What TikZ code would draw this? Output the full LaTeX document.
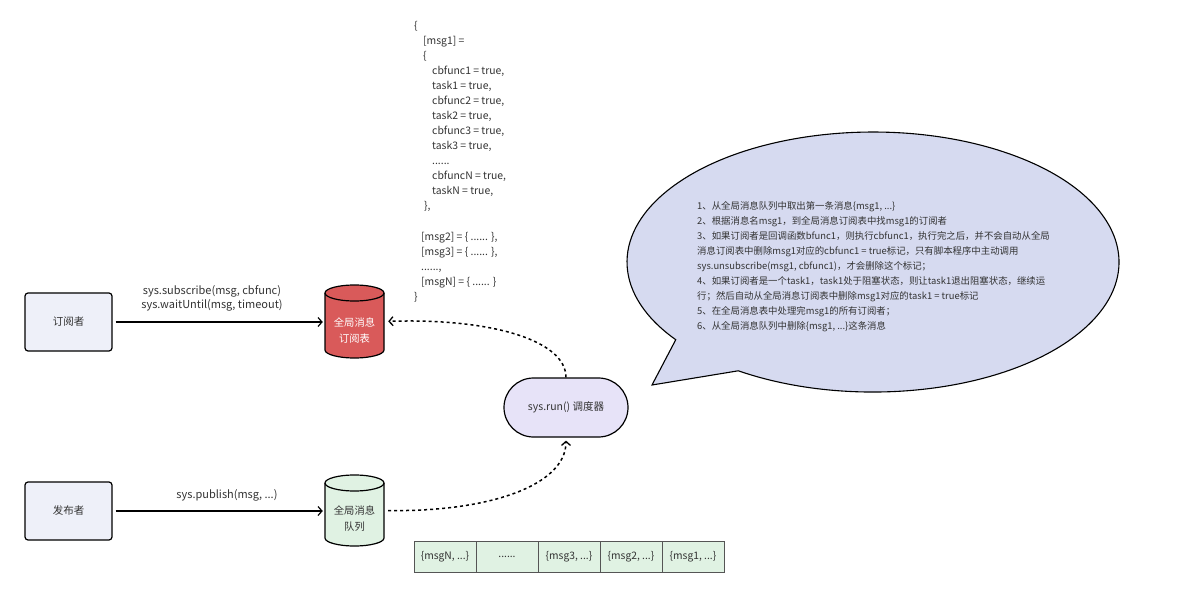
\documentclass[tikz,border=0pt]{standalone}
\usepackage{fontspec}
\setmainfont{Noto Sans CJK SC}
\usetikzlibrary{arrows.meta,calc}
\definecolor{txt}{HTML}{333333}
\definecolor{actorfill}{HTML}{EEF0F9}
\definecolor{schedfill}{HTML}{E7E3F8}
\definecolor{bubblefill}{HTML}{D6DAF0}
\definecolor{redfill}{HTML}{D95A5A}
\definecolor{greenfill}{HTML}{E0F2E3}
\definecolor{cellborder}{HTML}{555555}
\begin{document}
\begin{tikzpicture}[x=1pt,y=1pt,
  every node/.style={font=\fontsize{10.5}{15}\selectfont, text=txt},
  actor/.style={draw=black, line width=1.2pt, fill=actorfill, rounded corners=3pt,
    minimum width=87pt, minimum height=58pt, inner sep=0pt},
  cylspot/.style={minimum width=59pt, minimum height=73pt, inner sep=0pt},
  cylline/.style={draw=black, line width=1.2pt},
  cyltext/.style={align=center, inner sep=0pt, font=\fontsize{10.3}{16}\selectfont},
  sched/.style={draw=black, line width=1.2pt, fill=schedfill, rounded corners=29.5pt,
    minimum width=124pt, minimum height=59pt, inner sep=0pt},
  cell/.style={draw=cellborder, line width=1pt, fill=greenfill, minimum width=62pt,
    minimum height=31pt, inner sep=0pt, font=\fontsize{10.3}{15}\selectfont},
  solidarrow/.style={draw=black, line width=1.2pt, -{Straight Barb[length=4pt,width=9pt,line width=1.2pt]}},
  dasharrow/.style={draw=black, line width=1.5pt, dash pattern=on 3pt off 3pt,
    -{Straight Barb[length=4pt,width=9pt,line width=1.3pt]}},
  edgelabel/.style={align=center, inner sep=0pt, font=\fontsize{11}{14}\selectfont},
  codetext/.style={align=left, inner sep=0pt, anchor=base west, font=\fontsize{10.4}{15}\selectfont},
  bubbletext/.style={align=left, inner sep=0pt, anchor=base west, font=\fontsize{9.4}{15}\selectfont},
]
\useasboundingbox[fill=white] (0,0) rectangle (1200,-596);

% actors
\node[actor] (sub) at (68.5,-322) {订阅者};
\node[actor] (pub) at (68.5,-511) {发布者};

% red cylinder: global subscription table
\node[cylspot] (subtab) at (354.5,-321.5) {};
\filldraw[cylline, fill=redfill] (325,-293) -- (325,-350)
  arc[start angle=180, end angle=360, x radius=29.5, y radius=8] -- (384,-293)
  arc[start angle=0, end angle=180, x radius=29.5, y radius=8] -- cycle;
\draw[cylline] (325,-293) arc[start angle=180, end angle=360, x radius=29.5, y radius=8];
\node[cyltext, text=white] (subtabtext) at (354.5,-331) {全局消息\\订阅表};

% green cylinder: global message queue
\node[cylspot, minimum height=71pt] (msgq) at (354.5,-510.5) {};
\filldraw[cylline, fill=greenfill] (325,-483) -- (325,-538)
  arc[start angle=180, end angle=360, x radius=29.5, y radius=8] -- (384,-483)
  arc[start angle=0, end angle=180, x radius=29.5, y radius=8] -- cycle;
\draw[cylline] (325,-483) arc[start angle=180, end angle=360, x radius=29.5, y radius=8];
\node[cyltext] (msgqtext) at (354.5,-519) {全局消息\\队列};

% scheduler
\node[sched] (run) at (566,-407.5) {sys.run() 调度器};

% solid arrows with labels
\draw[solidarrow, shorten <=3pt, shorten >=2pt] (sub.east) -- (sub.east -| subtab.west);
\node[edgelabel] (sublbl) at (212,-298) {sys.subscribe(msg, cbfunc)\\sys.waitUntil(msg, timeout)};
\draw[solidarrow, shorten <=3pt, shorten >=2pt] (pub.east) -- (pub.east -| msgq.west);
\node[edgelabel] (publbl) at (227,-495) {sys.publish(msg, ...)};

% dashed arrows
\draw[dasharrow, shorten >=4pt] (run.north) .. controls (566,-340) and (490,-318) .. (subtab.east);
\draw[dasharrow, shorten <=4pt, shorten >=3pt] (msgq.east) .. controls (490,-512) and (566,-485) .. (run.south);

% code text (base anchor = baseline of last line)
\node[codetext] (code) at (414,-300.5) {%
\{\\
\hspace*{9pt}[msg1] =\\
\hspace*{9pt}\{\\
\hspace*{18pt}cbfunc1 = true,\\
\hspace*{18pt}task1 = true,\\
\hspace*{18pt}cbfunc2 = true,\\
\hspace*{18pt}task2 = true,\\
\hspace*{18pt}cbfunc3 = true,\\
\hspace*{18pt}task3 = true,\\
\hspace*{18pt}......\\
\hspace*{18pt}cbfuncN = true,\\
\hspace*{18pt}taskN = true,\\
\hspace*{10pt}\},\\[16pt]
\hspace*{7pt}[msg2] = \{ ...... \},\\
\hspace*{7pt}[msg3] = \{ ...... \},\\
\hspace*{7pt}......,\\
\hspace*{7pt}[msgN] = \{ ...... \}\\
\}};

% speech bubble
\filldraw[fill=bubblefill, draw=black, line width=1.1pt] (738.3,-370.8)
  arc[start angle=236.8, end angle=576.7, x radius=246, y radius=130] -- (652,-385) -- cycle;
\node[bubbletext] (bubtext) at (697,-329.5) {%
1、从全局消息队列中取出第一条消息\{msg1, ...\}\\
2、根据消息名msg1，到全局消息订阅表中找msg1的订阅者\\
3、如果订阅者是回调函数bfunc1，则执行cbfunc1，执行完之后，并不会自动从全局\\
消息订阅表中删除msg1对应的cbfunc1 = true标记，只有脚本程序中主动调用\\
sys.unsubscribe(msg1, cbfunc1)，才会删除这个标记；\\
4、如果订阅者是一个task1，task1处于阻塞状态，则让task1退出阻塞状态，继续运\\
行；然后自动从全局消息订阅表中删除msg1对应的task1 = true标记\\
5、在全局消息表中处理完msg1的所有订阅者；\\
6、从全局消息队列中删除\{msg1, ...\}这条消息};

% queue cells
\node[cell] (q1) at (445,-556.5) {\{msgN, ...\}};
\node[cell] (q2) at (507,-556.5) {......};
\node[cell] (q3) at (569,-556.5) {\{msg3, ...\}};
\node[cell] (q4) at (631,-556.5) {\{msg2, ...\}};
\node[cell] (q5) at (693,-556.5) {\{msg1, ...\}};
\end{tikzpicture}
\end{document}
